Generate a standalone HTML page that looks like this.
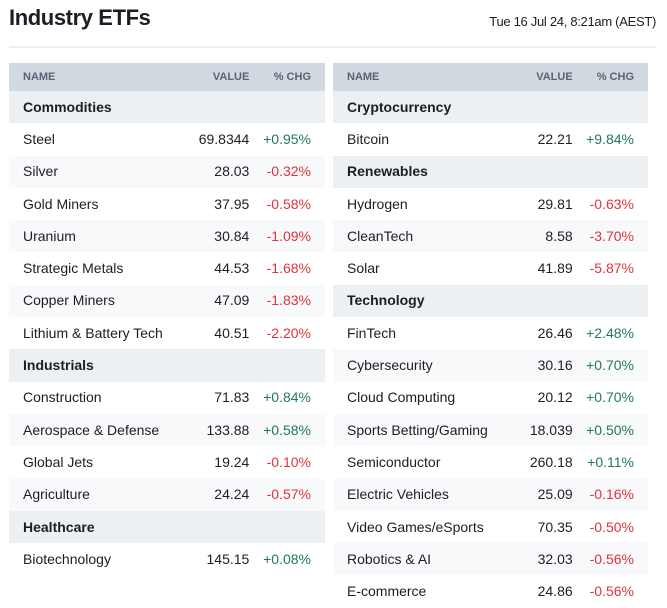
<!DOCTYPE html>
<html><head><meta charset="utf-8"><style>
body{margin:0;width:667px;height:608px;background:#fff;font-family:"Liberation Sans",sans-serif;color:#1d1d26;position:relative;overflow:hidden}
.title{position:absolute;left:9px;top:5px;font-size:22px;font-weight:bold;letter-spacing:-0.4px}
.date{position:absolute;right:11px;top:14px;font-size:13px;letter-spacing:-0.3px}
.sep{position:absolute;left:9px;top:46px;width:647px;height:2px;background:#e8eff7}
table{position:absolute;top:63px;border-collapse:collapse;width:316px;font-size:14px}
td,th{padding:0;height:32.3px;white-space:nowrap;line-height:14px}
td{padding-bottom:1px;box-sizing:border-box}
th{height:28px;background:#d2d9e0;font-size:11px;color:#566474;font-weight:bold;text-align:left}
th.v,td.v{text-align:right;width:90px}
th.c,td.c{text-align:right;width:63px;padding-right:14px}
th.n,td.n{padding-left:14px}
tr.cat td{background:#edf0f3;font-weight:bold}
tr.s td{background:#f8f9fa}
.g{color:#1f7a5a}.r{color:#e0333f}
</style></head><body>
<div class="title">Industry ETFs</div>
<div class="date">Tue 16 Jul 24, 8:21am (AEST)</div>
<div class="sep"></div>
<table style="left:9px">
<tr><th class="n">NAME</th><th class="v">VALUE</th><th class="c">% CHG</th></tr>
<tr class="cat"><td class="n" colspan="3">Commodities</td></tr>
<tr><td class="n">Steel</td><td class="v">69.8344</td><td class="c g">+0.95%</td></tr>
<tr class="s"><td class="n">Silver</td><td class="v">28.03</td><td class="c r">-0.32%</td></tr>
<tr><td class="n">Gold Miners</td><td class="v">37.95</td><td class="c r">-0.58%</td></tr>
<tr class="s"><td class="n">Uranium</td><td class="v">30.84</td><td class="c r">-1.09%</td></tr>
<tr><td class="n">Strategic Metals</td><td class="v">44.53</td><td class="c r">-1.68%</td></tr>
<tr class="s"><td class="n">Copper Miners</td><td class="v">47.09</td><td class="c r">-1.83%</td></tr>
<tr><td class="n">Lithium &amp; Battery Tech</td><td class="v">40.51</td><td class="c r">-2.20%</td></tr>
<tr class="cat"><td class="n" colspan="3">Industrials</td></tr>
<tr><td class="n">Construction</td><td class="v">71.83</td><td class="c g">+0.84%</td></tr>
<tr class="s"><td class="n">Aerospace &amp; Defense</td><td class="v">133.88</td><td class="c g">+0.58%</td></tr>
<tr><td class="n">Global Jets</td><td class="v">19.24</td><td class="c r">-0.10%</td></tr>
<tr class="s"><td class="n">Agriculture</td><td class="v">24.24</td><td class="c r">-0.57%</td></tr>
<tr class="cat"><td class="n" colspan="3">Healthcare</td></tr>
<tr><td class="n">Biotechnology</td><td class="v">145.15</td><td class="c g">+0.08%</td></tr>
</table>
<table style="left:333px;width:315px">
<tr><th class="n">NAME</th><th class="v">VALUE</th><th class="c">% CHG</th></tr>
<tr class="cat"><td class="n" colspan="3">Cryptocurrency</td></tr>
<tr><td class="n">Bitcoin</td><td class="v">22.21</td><td class="c g">+9.84%</td></tr>
<tr class="cat"><td class="n" colspan="3">Renewables</td></tr>
<tr><td class="n">Hydrogen</td><td class="v">29.81</td><td class="c r">-0.63%</td></tr>
<tr class="s"><td class="n">CleanTech</td><td class="v">8.58</td><td class="c r">-3.70%</td></tr>
<tr><td class="n">Solar</td><td class="v">41.89</td><td class="c r">-5.87%</td></tr>
<tr class="cat"><td class="n" colspan="3">Technology</td></tr>
<tr><td class="n">FinTech</td><td class="v">26.46</td><td class="c g">+2.48%</td></tr>
<tr class="s"><td class="n">Cybersecurity</td><td class="v">30.16</td><td class="c g">+0.70%</td></tr>
<tr><td class="n">Cloud Computing</td><td class="v">20.12</td><td class="c g">+0.70%</td></tr>
<tr class="s"><td class="n">Sports Betting/Gaming</td><td class="v">18.039</td><td class="c g">+0.50%</td></tr>
<tr><td class="n">Semiconductor</td><td class="v">260.18</td><td class="c g">+0.11%</td></tr>
<tr class="s"><td class="n">Electric Vehicles</td><td class="v">25.09</td><td class="c r">-0.16%</td></tr>
<tr><td class="n">Video Games/eSports</td><td class="v">70.35</td><td class="c r">-0.50%</td></tr>
<tr class="s"><td class="n">Robotics &amp; AI</td><td class="v">32.03</td><td class="c r">-0.56%</td></tr>
<tr><td class="n">E-commerce</td><td class="v">24.86</td><td class="c r">-0.56%</td></tr>
</table>
</body></html>
